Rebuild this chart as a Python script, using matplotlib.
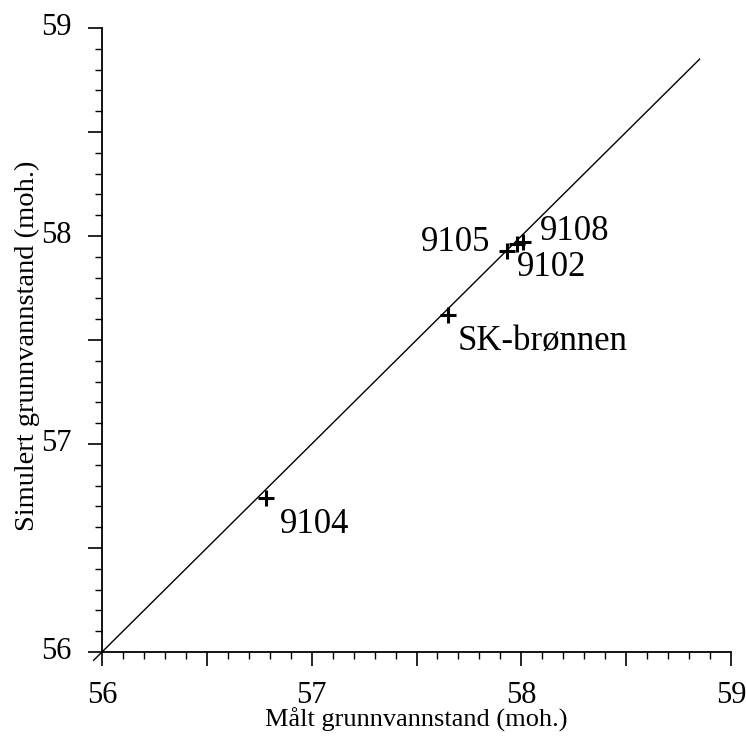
import matplotlib
matplotlib.use("Agg")
import matplotlib.pyplot as plt
import matplotlib.transforms as mtransforms
from matplotlib.ticker import MultipleLocator, FuncFormatter

plt.rcParams['font.family'] = ['Liberation Serif', 'DejaVu Serif']

# Data
names = ["9104", "SK-brønnen", "9105", "9102", "9108"]
measured = [56.78, 57.65, 57.93, 57.98, 58.01]
simulated = [56.74, 57.62, 57.93, 57.96, 57.97]
line_ends = [55.96, 58.85]
tick_labels = ["56", "57", "58", "59"]

fig = plt.figure(figsize=(7.46, 7.38), dpi=100)
ax = fig.add_axes([102/746, 1-652/738, (731-102)/746, (652-28)/738])

ax.plot(line_ends, line_ends, color="black", lw=1.0, clip_on=False)
ax.plot(measured, simulated, linestyle="none", marker="+", color="black",
        markersize=11, markeredgewidth=2.2, clip_on=False)

offsets = {
    "9104": (10, -19, "left"),
    "SK-brønnen": (7, -19, "left"),
    "9105": (-12, 6, "right"),
    "9102": (0, -17, "left"),
    "9108": (12, 8, "left"),
}
for n, x, y in zip(names, measured, simulated):
    dx, dy, ha = offsets[n]
    ax.annotate(n, (x, y), xytext=(dx, dy), textcoords="offset points",
                ha=ha, va="center", fontsize=25)

ax.set_xlim(56, 59)
ax.set_ylim(56, 59)
fmt = FuncFormatter(lambda v, p: tick_labels[int(round(v)) - 56] if abs(v - round(v)) < 1e-6 else "")
for axis in (ax.xaxis, ax.yaxis):
    axis.set_major_locator(MultipleLocator(0.5))
    axis.set_minor_locator(MultipleLocator(0.1))
    axis.set_major_formatter(fmt)
for s in ["top", "right"]:
    ax.spines[s].set_visible(False)
for s in ["left", "bottom"]:
    ax.spines[s].set_linewidth(1.3)
ax.tick_params(which="major", direction="out", length=10, width=1.2,
               labelsize=22)
ax.tick_params(axis="x", which="major", pad=11)
ax.tick_params(axis="y", which="major", pad=12)
ax.tick_params(which="minor", direction="out", length=5, width=1.0)

# shift y tick labels up slightly
shift = mtransforms.ScaledTranslation(0, 4/100, fig.dpi_scale_trans)
for t in ax.yaxis.get_major_ticks():
    t.label1.set_transform(t.label1.get_transform() + shift)

ax.set_xlabel("Målt grunnvannstand (moh.)", fontsize=19)
ax.xaxis.set_label_coords(0.5, (652-727)/624)
ax.xaxis.label.set_verticalalignment("baseline")
ax.set_ylabel("Simulert grunnvannstand (moh.)", fontsize=20.5)
ax.yaxis.set_label_coords(-(102-40)/629, 0.49)

fig.savefig("out.png", dpi=100)
